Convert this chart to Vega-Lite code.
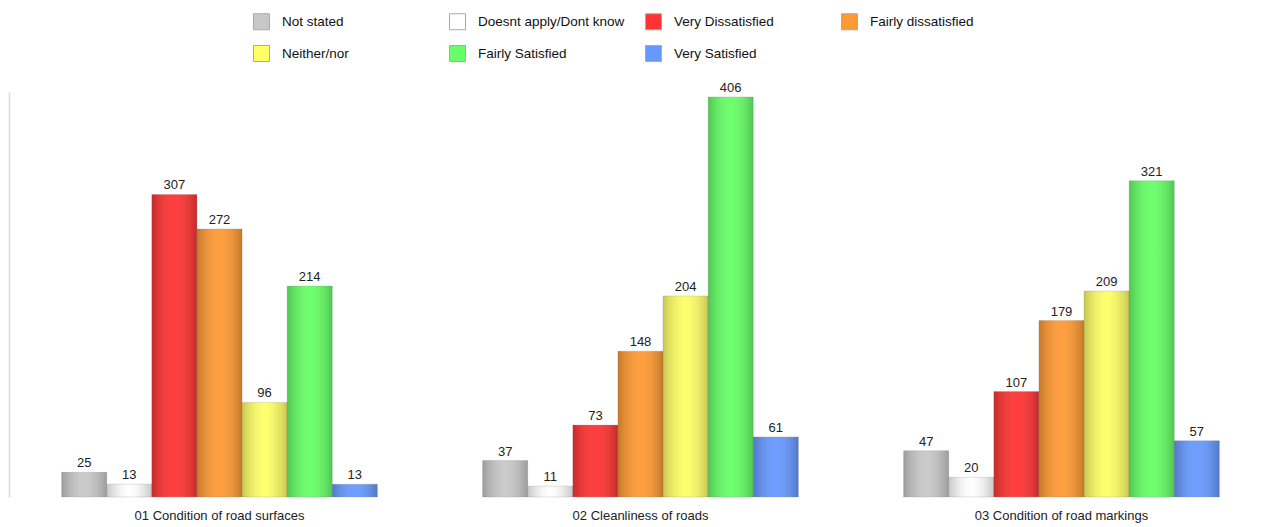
{
  "$schema": "https://vega.github.io/schema/vega-lite/v6.json",
  "width": 1263,
  "height": 405,
  "autosize": {"type": "none"},
  "padding": {"left": 9, "top": 92, "right": 0, "bottom": 30},
  "background": "white",
  "config": {"view": {"stroke": null}, "font": "Liberation Sans"},
  "data": {
    "values": [
      {"question": "01 Condition of road surfaces", "response": "Not stated", "count": 25},
      {"question": "01 Condition of road surfaces", "response": "Doesnt apply/Dont know", "count": 13},
      {"question": "01 Condition of road surfaces", "response": "Very Dissatisfied", "count": 307},
      {"question": "01 Condition of road surfaces", "response": "Fairly dissatisfied", "count": 272},
      {"question": "01 Condition of road surfaces", "response": "Neither/nor", "count": 96},
      {"question": "01 Condition of road surfaces", "response": "Fairly Satisfied", "count": 214},
      {"question": "01 Condition of road surfaces", "response": "Very Satisfied", "count": 13},
      {"question": "02 Cleanliness of roads", "response": "Not stated", "count": 37},
      {"question": "02 Cleanliness of roads", "response": "Doesnt apply/Dont know", "count": 11},
      {"question": "02 Cleanliness of roads", "response": "Very Dissatisfied", "count": 73},
      {"question": "02 Cleanliness of roads", "response": "Fairly dissatisfied", "count": 148},
      {"question": "02 Cleanliness of roads", "response": "Neither/nor", "count": 204},
      {"question": "02 Cleanliness of roads", "response": "Fairly Satisfied", "count": 406},
      {"question": "02 Cleanliness of roads", "response": "Very Satisfied", "count": 61},
      {"question": "03 Condition of road markings", "response": "Not stated", "count": 47},
      {"question": "03 Condition of road markings", "response": "Doesnt apply/Dont know", "count": 20},
      {"question": "03 Condition of road markings", "response": "Very Dissatisfied", "count": 107},
      {"question": "03 Condition of road markings", "response": "Fairly dissatisfied", "count": 179},
      {"question": "03 Condition of road markings", "response": "Neither/nor", "count": 209},
      {"question": "03 Condition of road markings", "response": "Fairly Satisfied", "count": 321},
      {"question": "03 Condition of road markings", "response": "Very Satisfied", "count": 57}
    ]
  },
  "encoding": {
    "x": {
      "field": "question", "type": "nominal", "sort": null,
      "scale": {"paddingInner": 0.25, "paddingOuter": 0.125},
      "axis": {"title": null, "domain": false, "ticks": false, "labelPadding": 12, "labelFontSize": 13, "labelColor": "#222", "labelAngle": 0, "labelLimit": 400}
    },
    "xOffset": {
      "field": "response", "type": "nominal",
      "sort": ["Not stated", "Doesnt apply/Dont know", "Very Dissatisfied", "Fairly dissatisfied", "Neither/nor", "Fairly Satisfied", "Very Satisfied"],
      "scale": {"paddingInner": 0, "paddingOuter": 0}
    },
    "y": {
      "field": "count", "type": "quantitative",
      "scale": {"domain": [0, 411], "nice": false},
      "axis": {"title": null, "labels": false, "ticks": false, "grid": false, "domainColor": "#d5dbe2", "domainWidth": 1.5}
    }
  },
  "layer": [
    {
      "mark": {"type": "bar", "stroke": "#9a9a9a", "strokeWidth": 0.5, "strokeOpacity": 0.6},
      "encoding": {
        "color": {
          "field": "response", "type": "nominal",
          "scale": {
            "domain": ["Not stated", "Doesnt apply/Dont know", "Very Dissatisfied", "Fairly dissatisfied", "Neither/nor", "Fairly Satisfied", "Very Satisfied"],
            "range": ["#c8c8c8", "#ffffff", "#ff3333", "#ff9933", "#ffff66", "#66ff66", "#6699ff"]
          },
          "legend": {
            "title": null, "orient": "none", "legendX": 244, "legendY": -79,
            "direction": "horizontal", "columns": 4, "gridAlign": "all",
            "symbolType": "square", "symbolSize": 256, "symbolStrokeColor": "#aaaaaa", "symbolStrokeWidth": 1, "symbolOpacity": 1,
            "labelFontSize": 13.5, "labelColor": "#111", "labelOffset": 12, "labelLimit": 300,
            "rowPadding": 11, "columnPadding": 18
          }
        }
      }
    },
    {
      "mark": {
        "type": "bar",
        "color": {
          "gradient": "linear", "x1": 0, "x2": 1, "y1": 0, "y2": 0,
          "stops": [
            {"offset": 0, "color": "rgba(0,0,0,0.22)"},
            {"offset": 0.5, "color": "rgba(255,255,255,0.05)"},
            {"offset": 1, "color": "rgba(0,0,0,0.22)"}
          ]
        }
      }
    },
    {
      "mark": {"type": "text", "baseline": "bottom", "dy": -2, "fontSize": 13, "color": "#222"},
      "encoding": {"text": {"field": "count", "type": "quantitative"}}
    }
  ]
}
